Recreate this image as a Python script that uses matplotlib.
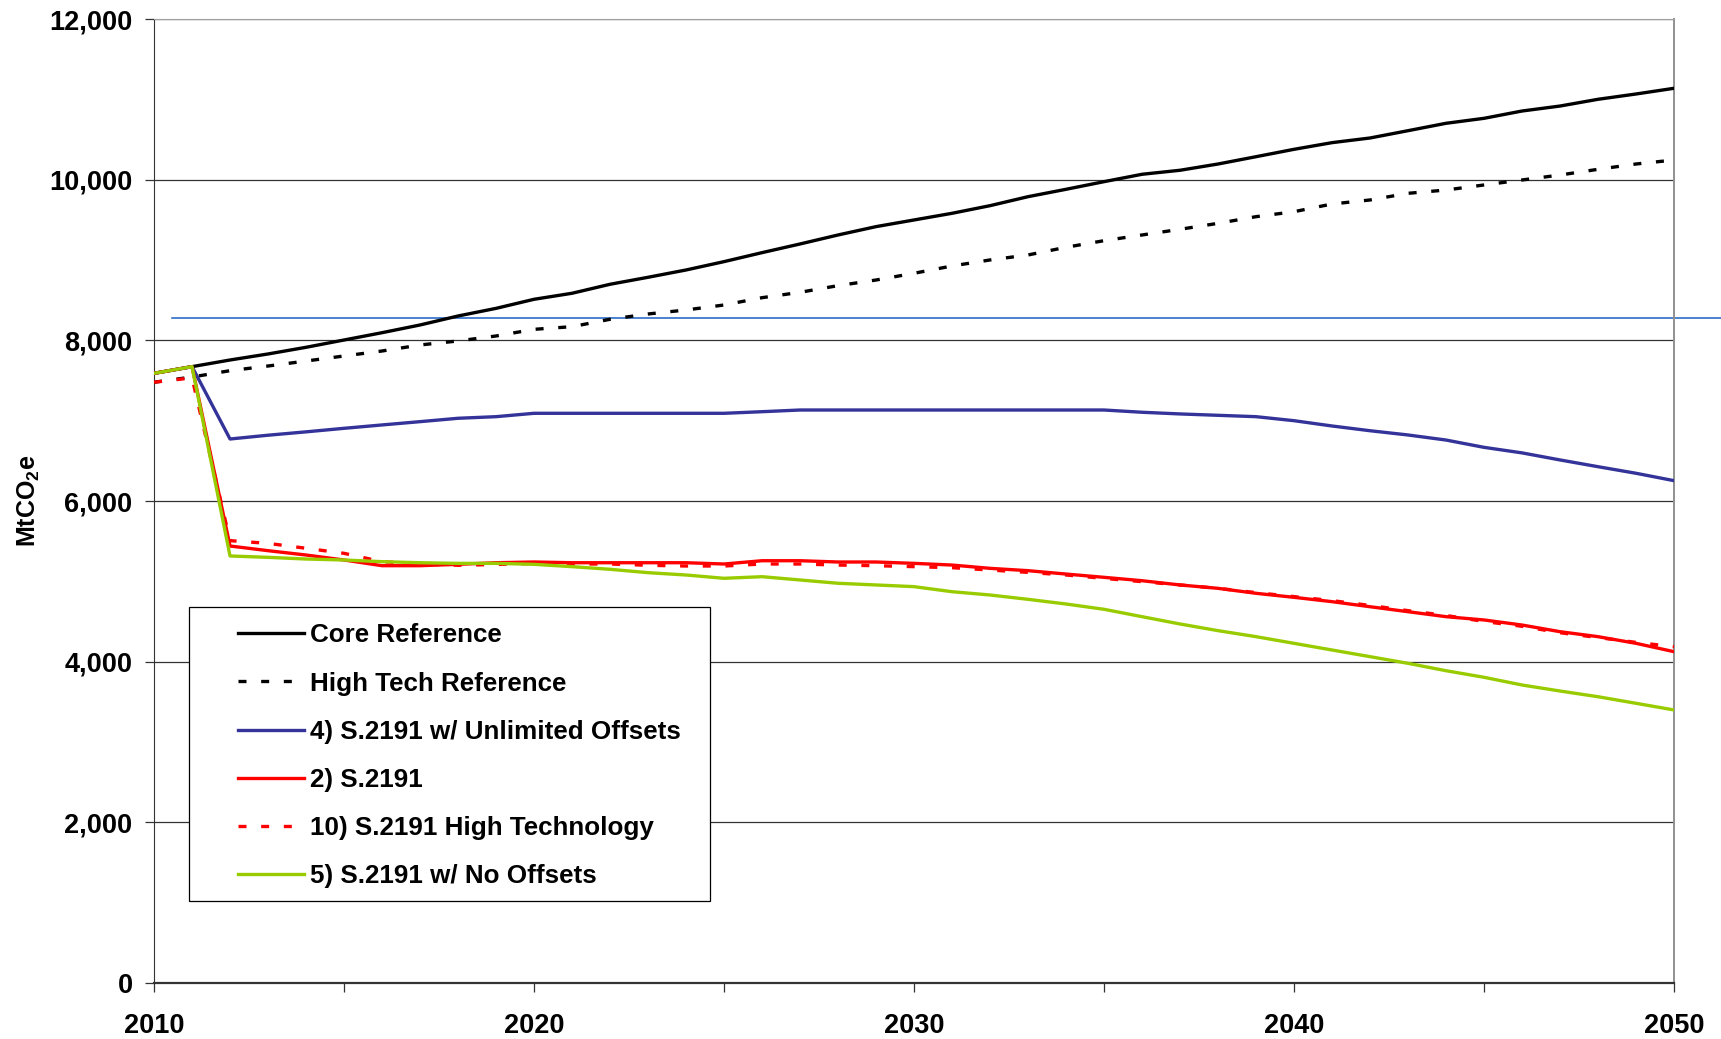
import matplotlib
matplotlib.use('Agg')
import matplotlib.pyplot as plt
from matplotlib.patches import Rectangle, Shadow
from matplotlib.ticker import MultipleLocator, FuncFormatter

plt.rcParams['font.family'] = ['Liberation Sans', 'DejaVu Sans']
plt.rcParams['font.weight'] = 'bold'
plt.rcParams['mathtext.fontset'] = 'custom'
plt.rcParams['mathtext.rm'] = 'Liberation Sans:bold'
plt.rcParams['mathtext.bf'] = 'Liberation Sans:bold'
plt.rcParams['mathtext.it'] = 'Liberation Sans:bold'

# data (MtCO2e)
years = list(range(2010, 2051))

core_ref = [7591, 7674, 7757, 7832, 7915, 8006, 8097, 8193, 8305, 8400,
            8513, 8588, 8700, 8787, 8878, 8982, 9094, 9202, 9314, 9418,
            9501, 9584, 9679, 9791, 9883, 9978, 10070, 10120, 10198, 10289,
            10381, 10464, 10522, 10613, 10705, 10767, 10858, 10920, 11004, 11070,
            11141]

high_tech_ref = [7480, 7545, 7624, 7682, 7744, 7807, 7869, 7944, 7994, 8056,
                 8139, 8172, 8264, 8330, 8380, 8442, 8533, 8600, 8683, 8753,
                 8837, 8928, 9003, 9065, 9161, 9243, 9314, 9385, 9459, 9542,
                 9604, 9700, 9750, 9833, 9874, 9937, 9999, 10061, 10132, 10198,
                 10248]

unlimited_offsets = [7591, 7674, 6773, 6820, 6862, 6906, 6948, 6989, 7031, 7051,
                     7093, 7093, 7093, 7093, 7093, 7093, 7113, 7134, 7134, 7134,
                     7134, 7134, 7134, 7134, 7134, 7134, 7106, 7085, 7068, 7051,
                     7001, 6935, 6876, 6823, 6760, 6669, 6600, 6512, 6428, 6346,
                     6254]

s2191 = [7591, 7674, 5440, 5382, 5328, 5266, 5195, 5195, 5212, 5232,
         5241, 5232, 5232, 5232, 5232, 5216, 5257, 5257, 5241, 5241,
         5224, 5203, 5162, 5133, 5091, 5050, 5008, 4955, 4913, 4851,
         4801, 4747, 4684, 4622, 4560, 4519, 4456, 4373, 4311, 4228,
         4124]

s2191_high_tech = [7480, 7535, 5507, 5473, 5412, 5349, 5245, 5216, 5200, 5210,
                   5224, 5216, 5216, 5200, 5191, 5191, 5216, 5216, 5203, 5195,
                   5183, 5170, 5141, 5112, 5079, 5037, 4996, 4955, 4913, 4860,
                   4810, 4760, 4700, 4635, 4575, 4500, 4440, 4360, 4300, 4240,
                   4186]

no_offsets = [7591, 7674, 5316, 5299, 5278, 5266, 5245, 5232, 5224, 5224,
              5212, 5183, 5150, 5108, 5079, 5038, 5058, 5017, 4976, 4955,
              4934, 4871, 4830, 4776, 4718, 4652, 4560, 4469, 4386, 4311,
              4228, 4145, 4062, 3979, 3887, 3805, 3709, 3634, 3563, 3481,
              3398]

# stray blue rule across the plot
rule_level = 8276
rule_years = [2010.47, 2052.0]

series = [
    ('Core Reference', core_ref, 'black', '-'),
    ('High Tech Reference', high_tech_ref, 'black', (0, (2.4, 4.4))),
    ('4) S.2191 w/ Unlimited Offsets', unlimited_offsets, '#333399', '-'),
    ('2) S.2191', s2191, '#ff0000', '-'),
    ('10) S.2191 High Technology', s2191_high_tech, '#ff0000', (0, (2.4, 4.4))),
    ('5) S.2191 w/ No Offsets', no_offsets, '#99cc00', '-'),
]

fig = plt.figure(figsize=(17.21, 10.39), dpi=100)
ax = fig.add_axes([0.0895, 0.0541, 0.8832, 0.9273])

handles = []
for label, vals, color, ls in series:
    ln, = ax.plot(years, vals, color=color, linestyle=ls, linewidth=2.4,
                  label=label, zorder=3)
    handles.append(ln)

ax.plot(rule_years, [rule_level, rule_level], color='#1a5fc4', linewidth=1.1,
        clip_on=False, zorder=2)

ax.set_xlim(2010, 2050)
ax.set_ylim(0, 12000)
ax.xaxis.set_major_locator(MultipleLocator(10))
ax.xaxis.set_minor_locator(MultipleLocator(5))
ax.yaxis.set_major_locator(MultipleLocator(2000))
ax.yaxis.set_major_formatter(FuncFormatter(lambda v, p: '{:,.0f}'.format(v)))

ax.tick_params(axis='both', which='both', direction='out', length=6.5,
               width=0.9, color='#333333', labelsize=19.5)
ax.tick_params(axis='y', pad=9)
ax.tick_params(axis='x', pad=15)

ax.grid(axis='y', color='#333333', linewidth=0.9, zorder=1)
ax.set_axisbelow(True)
ax.get_ygridlines()[-1].set_visible(False)

ax.spines['left'].set_color('#333333')
ax.spines['bottom'].set_color('#333333')
ax.spines['bottom'].set_linewidth(1.6)
ax.spines['top'].set_color('#a0a0a0')
ax.spines['right'].set_color('#909090')
ax.spines['right'].set_linewidth(1.4)

ax.set_ylabel('MtCO$_{2}$e', fontsize=18, fontweight='bold', labelpad=5)

# legend box drawn by hand to get the wide side margins
box = Rectangle((0.0229, 0.0849), 0.3429, 0.3051, transform=ax.transAxes,
                facecolor='white', edgecolor='black', linewidth=0.9, zorder=5)
shadow = Shadow(box, 2, -2, facecolor='#808080', alpha=0.8, zorder=4.9)
ax.add_patch(shadow)
ax.add_patch(box)

leg = ax.legend(handles=handles, loc='upper left', bbox_to_anchor=(0.0553, 0.373),
                frameon=False, fontsize=18.7, borderpad=0, borderaxespad=0,
                handlelength=2.55, handletextpad=0.2, labelspacing=0.93)
leg.set_zorder(6)

fig.savefig('out.png', dpi=100)
